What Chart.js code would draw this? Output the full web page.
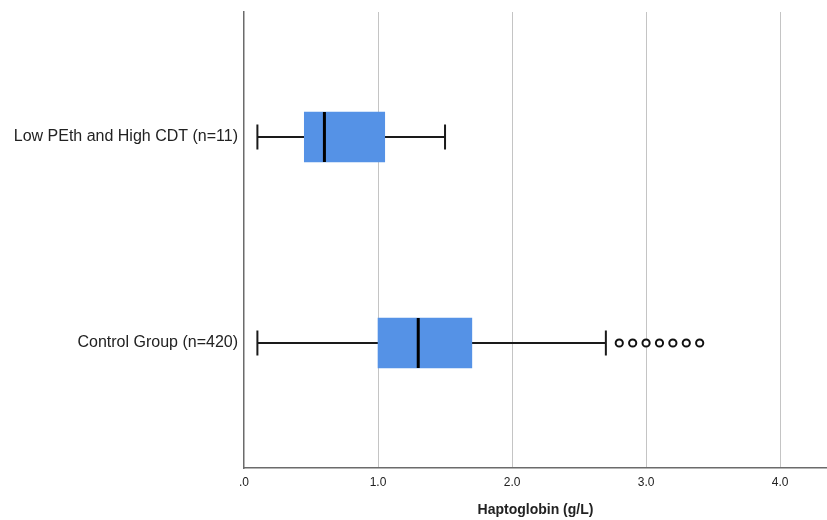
<!DOCTYPE html>
<html>
<head>
<meta charset="utf-8">
<script src="https://cdn.jsdelivr.net/npm/chart.js@4"></script>
<style>
  html, body { margin: 0; padding: 0; background: #fff; }
  #wrap { width: 827px; height: 520px; }
</style>
</head>
<body>
<div id="wrap"><canvas id="c" width="827" height="520"></canvas></div>
<script>
const categories = ['Low PEth and High CDT (n=11)', 'Control Group (n=420)'];
const whiskerLow = [0.1, 0.1];
const q1 = [0.45, 1.0];
const median = [0.6, 1.3];
const q3 = [1.05, 1.7];
const whiskerHigh = [1.5, 2.7];
const outliersControl = [2.8, 2.9, 3.0, 3.1, 3.2, 3.3, 3.4];
const xTickValues = [0, 1, 2, 3, 4];
const xTickLabels = ['.0', '1.0', '2.0', '3.0', '4.0'];

const FONT = 'Arial, "Liberation Sans", sans-serif';
const catPos = categories.map((_, i) => i + 1);

const boxPlugin = {
  id: 'boxParts',
  beforeDatasetsDraw(chart) {
    const ctx = chart.ctx, xs = chart.scales.x, ys = chart.scales.y;
    ctx.save();
    ctx.strokeStyle = '#1a1a1a';
    ctx.lineWidth = 2;
    categories.forEach((_, i) => {
      const y = ys.getPixelForValue(catPos[i]);
      const capHalf = 12.5;
      const xl = xs.getPixelForValue(whiskerLow[i]);
      const xq1 = xs.getPixelForValue(q1[i]);
      const xq3 = xs.getPixelForValue(q3[i]);
      const xh = xs.getPixelForValue(whiskerHigh[i]);
      ctx.beginPath();
      ctx.moveTo(xl, y); ctx.lineTo(xq1, y);
      ctx.moveTo(xq3, y); ctx.lineTo(xh, y);
      ctx.moveTo(xl, y - capHalf); ctx.lineTo(xl, y + capHalf);
      ctx.moveTo(xh, y - capHalf); ctx.lineTo(xh, y + capHalf);
      ctx.stroke();
    });
    ctx.restore();
  },
  afterDatasetsDraw(chart) {
    const ctx = chart.ctx, xs = chart.scales.x, ys = chart.scales.y;
    ctx.save();
    ctx.strokeStyle = '#000';
    ctx.lineWidth = 3;
    categories.forEach((_, i) => {
      const y = ys.getPixelForValue(catPos[i]);
      const xm = xs.getPixelForValue(median[i]);
      ctx.beginPath();
      ctx.moveTo(xm, y - 25); ctx.lineTo(xm, y + 25);
      ctx.stroke();
    });
    ctx.restore();
  }
};

new Chart(document.getElementById('c'), {
  type: 'bar',
  data: {
    datasets: [
      {
        type: 'bar',
        data: categories.map((_, i) => ({ x: [q1[i], q3[i]], y: catPos[i] })),
        backgroundColor: '#5592e6',
        borderWidth: 0,
        barThickness: 50,
        grouped: false,
        order: 2
      },
      {
        type: 'scatter',
        data: outliersControl.map(v => ({ x: v, y: catPos[1] })),
        pointStyle: 'circle',
        pointRadius: 3.6,
        pointBackgroundColor: '#ffffff',
        pointBorderColor: '#111',
        pointBorderWidth: 2,
        order: 1
      }
    ]
  },
  options: {
    indexAxis: 'y',
    responsive: false,
    animation: false,
    layout: { autoPadding: false, padding: { top: 12, right: 0, left: 0, bottom: 0 } },
    plugins: { legend: { display: false }, tooltip: { enabled: false } },
    scales: {
      x: {
        type: 'linear',
        position: 'bottom',
        min: 0,
        max: 4.35,
        afterBuildTicks: s => { s.ticks = xTickValues.map(v => ({ value: v })); },
        afterFit: s => { s.height = 52; s.paddingLeft = 0; s.paddingRight = 0; },
        ticks: {
          callback: (v, i) => xTickLabels[i],
          font: { family: FONT, size: 12 },
          color: '#222',
          padding: 7,
          maxRotation: 0
        },
        grid: {
          drawTicks: false,
          color: c => (c.tick && c.tick.value === 0) ? 'rgba(0,0,0,0)' : '#c4c4c4',
          lineWidth: 1
        },
        border: { color: '#6b6b6b', width: 1.5 },
        title: {
          display: true,
          text: 'Haptoglobin (g/L)',
          font: { family: FONT, size: 14, weight: 'bold' },
          color: '#222',
          padding: { top: 10, bottom: 1 }
        }
      },
      y: {
        type: 'linear',
        reverse: true,
        offset: false,
        min: 0.393,
        max: 2.607,
        afterBuildTicks: s => { s.ticks = catPos.map(v => ({ value: v })); },
        afterFit: s => { s.width = 244; s.paddingTop = 0; s.paddingBottom = 0; },
        ticks: {
          callback: v => categories[Math.round(v) - 1],
          font: { family: FONT, size: 16 },
          color: '#222',
          padding: 6
        },
        grid: { display: false, drawTicks: false, offset: false },
        border: { color: '#6b6b6b', width: 1.5 }
      }
    }
  },
  plugins: [boxPlugin]
});
</script>
</body>
</html>
